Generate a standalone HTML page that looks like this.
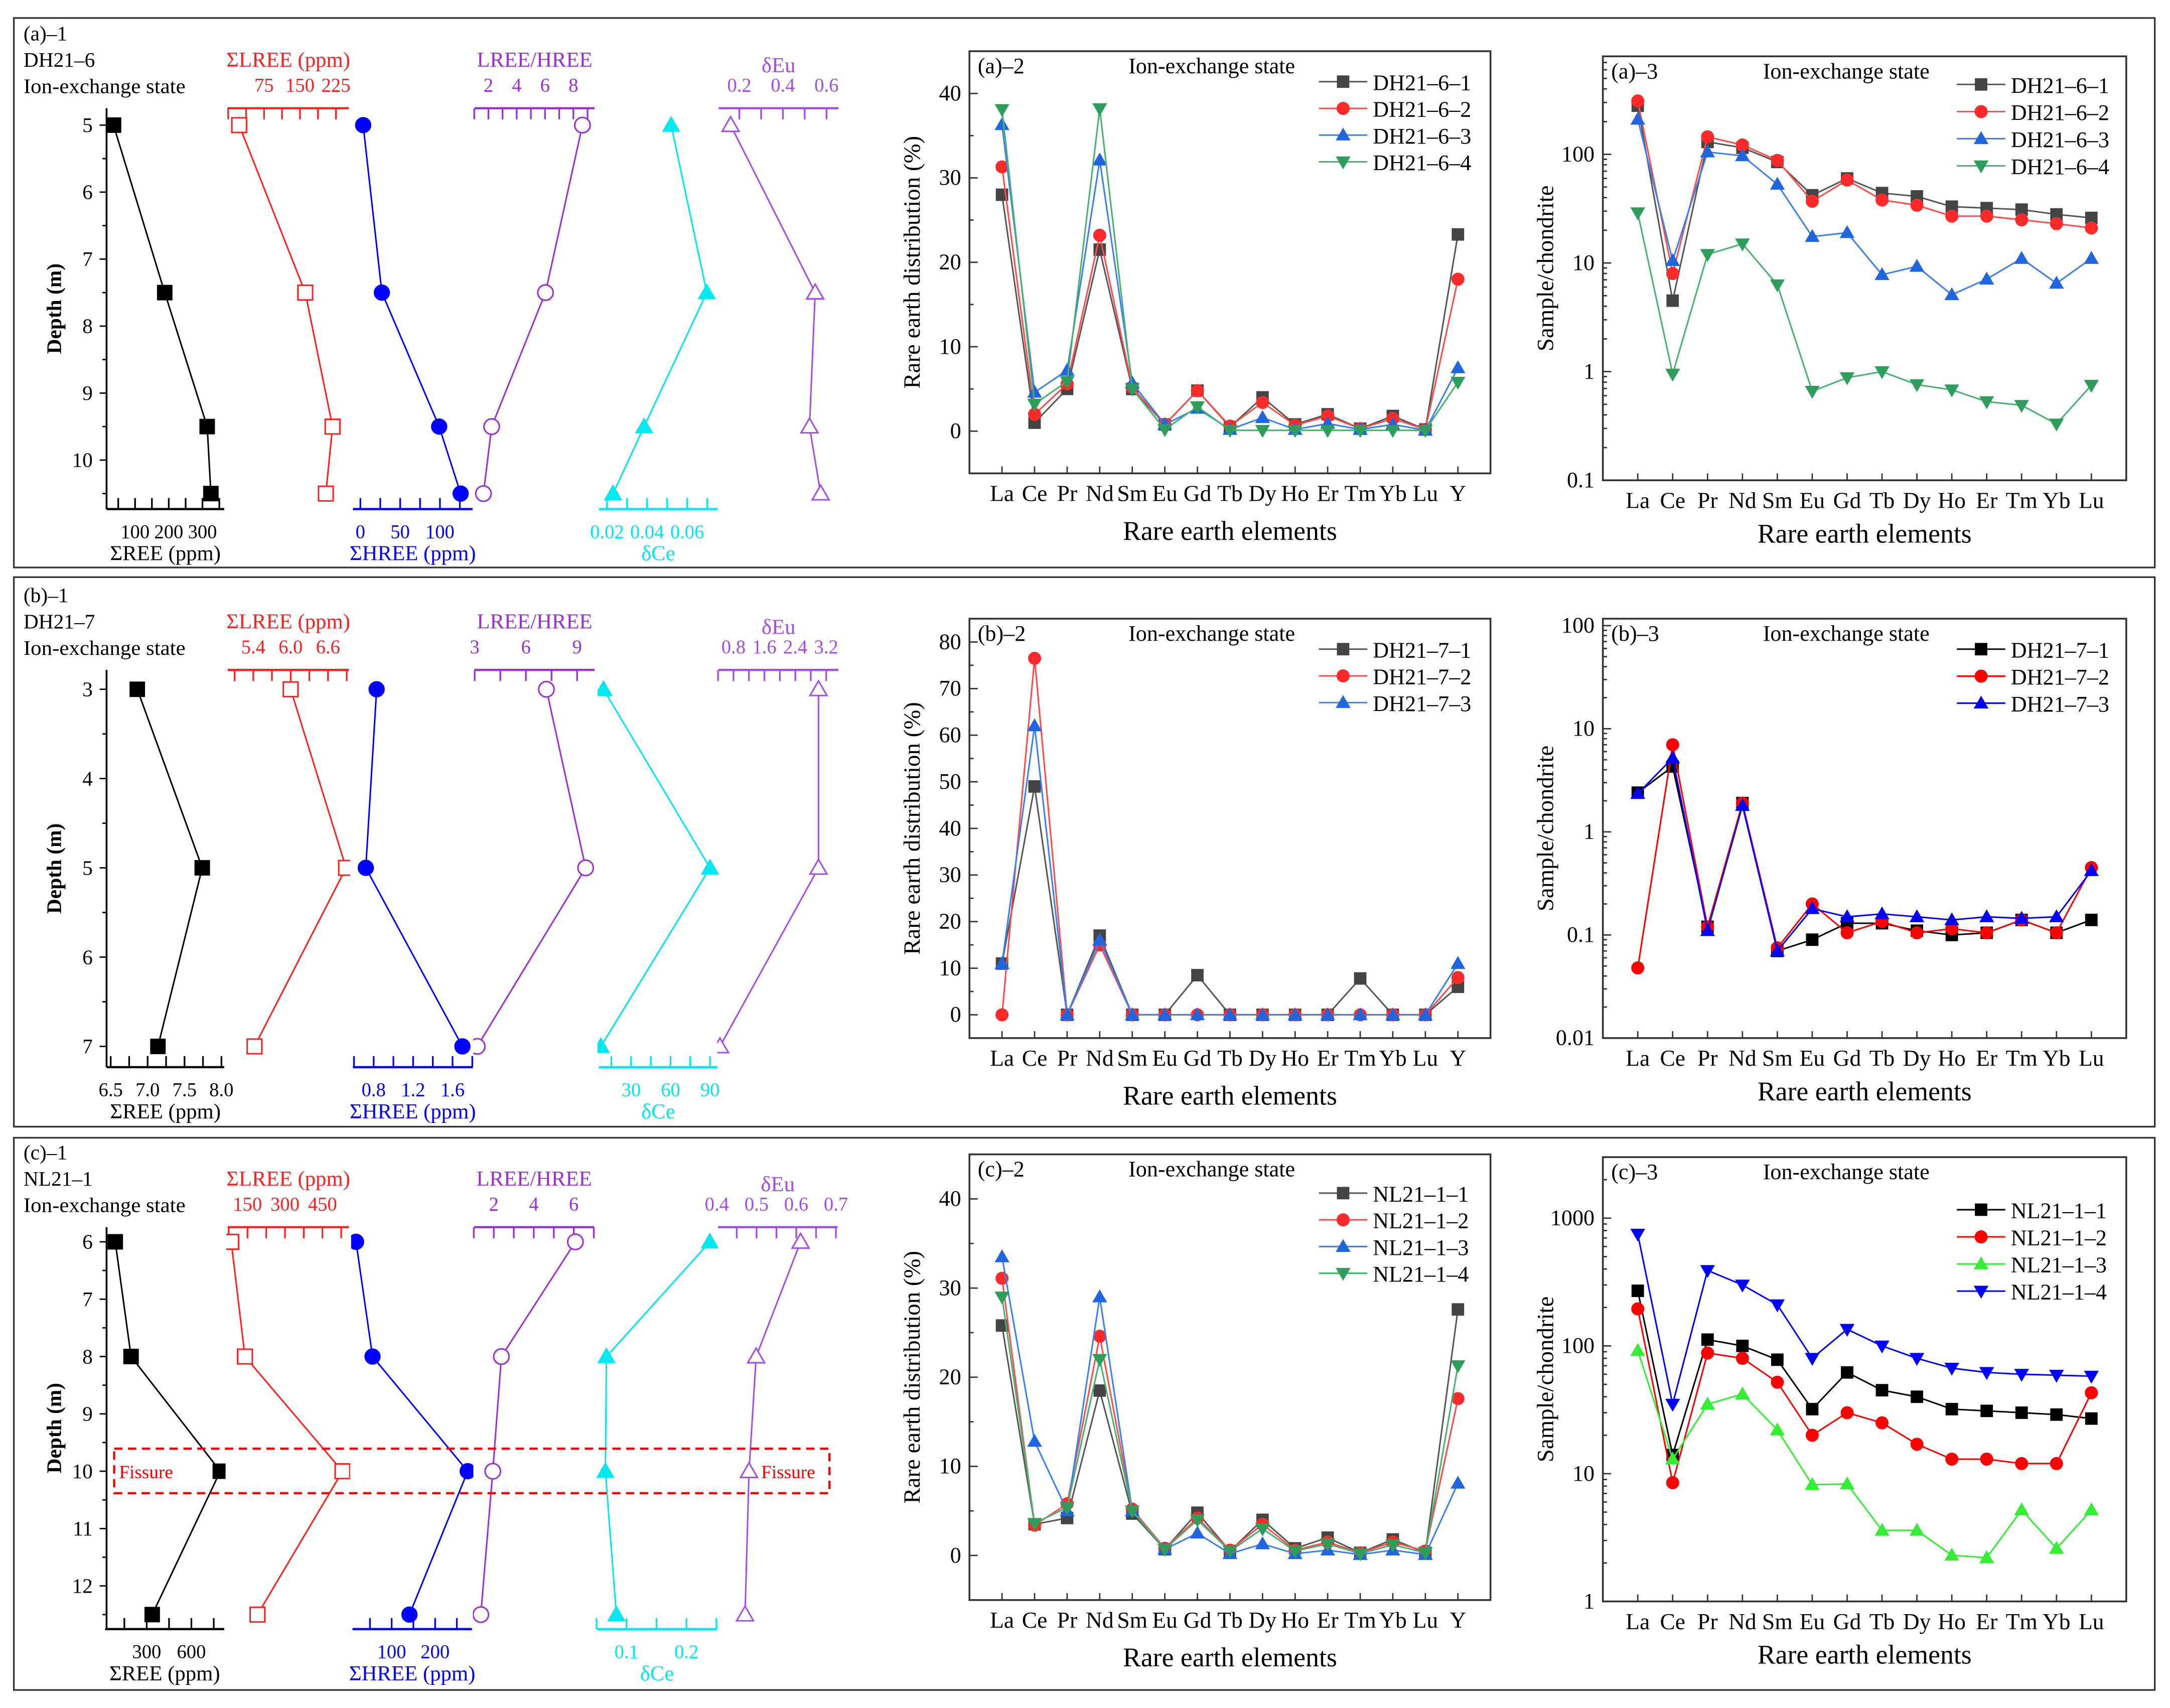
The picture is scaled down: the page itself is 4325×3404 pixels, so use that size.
<!DOCTYPE html>
<html><head><meta charset="utf-8"><title>REE profiles</title>
<style>
html,body{margin:0;padding:0;background:#fff;}
svg{display:block;}
svg text{font-family:"Liberation Serif","Times New Roman",serif;}
</style></head>
<body>
<svg id="chart" xmlns="http://www.w3.org/2000/svg" width="4325" height="3404" viewBox="0 0 1568 1234" preserveAspectRatio="none" font-family="Liberation Serif, serif">
<rect x="0" y="0" width="1568" height="1234" fill="#fff"/>
</svg>
<script>
// ---------- DATA: depth profiles ----------
const depthsA = [5, 7.5, 9.5, 10.5];
const sumREE_A = [36, 188, 314, 325];
const sumLREE_A = [23, 161, 218, 204];
const sumHREE_A = [3.5, 27, 99, 126];
const ratio_A = [8.64, 6.03, 2.23, 1.65];
const dCe_A = [0.052, 0.0698, 0.0385, 0.023];
const dEu_A = [0.16, 0.548, 0.522, 0.573];

const depthsB = [3, 5, 7];
const sumREE_B = [6.86, 7.74, 7.14];
const sumLREE_B = [6.0, 6.89, 5.42];
const sumHREE_B = [0.83, 0.72, 1.70];
const ratio_B = [7.2, 9.5, 3.15];
const dCe_B = [9, 90, 7];
const dEu_B = [3.0, 3.0, 0.45];

const depthsC = [6, 8, 10, 12.5];
const sumREE_C = [89, 195, 794, 337];
const sumLREE_C = [85, 140, 530, 190];
const sumHREE_C = [18, 56, 275, 141];
const ratio_C = [6.08, 2.38, 1.95, 1.35];
const dCe_C = [0.239, 0.0665, 0.0647, 0.083];
const dEu_C = [0.611, 0.499, 0.481, 0.471];

// ---------- DATA: distribution charts ----------
const ree15 = ['La','Ce','Pr','Nd','Sm','Eu','Gd','Tb','Dy','Ho','Er','Tm','Yb','Lu','Y'];
const ree14 = ['La','Ce','Pr','Nd','Sm','Eu','Gd','Tb','Dy','Ho','Er','Tm','Yb','Lu'];
const dist_DH21_6_1 = [28,1,5,21.5,5,0.8,4.8,0.5,4,0.8,2,0.3,1.8,0.2,23.3];
const dist_DH21_6_2 = [31.3,2,5.6,23.2,5.2,0.8,4.8,0.6,3.4,0.7,1.8,0.3,1.5,0.2,18];
const dist_DH21_6_3 = [36.3,4.6,7.2,32.1,5.7,0.8,2.7,0.2,1.6,0.2,0.9,0.2,0.8,0.1,7.5];
const dist_DH21_6_4 = [38.1,3.2,5.9,38.2,5,0.2,2.9,0.1,0.1,0.1,0.1,0.1,0.1,0.1,5.8];

const dist_DH21_7_1 = [11,49,0,17,0,0,8.5,0,0,0,0,7.8,0,0,6];
const dist_DH21_7_2 = [0,76.5,0,15,0,0,0,0,0,0,0,0,0,0,8];
const dist_DH21_7_3 = [11,62,0,16,0,0,0,0,0,0,0,0,0,0,11];

const dist_NL21_1_1 = [25.8,3.5,4.2,18.5,4.7,0.7,4.8,0.5,4,0.8,2,0.3,1.8,0.3,27.6];
const dist_NL21_1_2 = [31.1,3.4,5.8,24.6,5.2,0.8,4.2,0.6,3.5,0.6,1.5,0.3,1.5,0.5,17.6];
const dist_NL21_1_3 = [33.5,12.8,5,29,5,0.7,2.5,0.2,1.3,0.2,0.6,0.1,0.6,0.1,8.1];
const dist_NL21_1_4 = [29,3.6,5.4,22,5,0.7,4,0.5,3,0.5,1.3,0.2,1.2,0.3,21.3];

// ---------- DATA: chondrite-normalised ----------
const chon_DH21_6_1 = [280,4.5,130,115,85,42,60,44,41,33,32,31,28,26];
const chon_DH21_6_2 = [310,8,145,122,88,37,58,38,34,27,27,25,23,21];
const chon_DH21_6_3 = [210,10.5,105,97,53,17.5,19,7.8,9.3,5.1,7.1,11,6.5,11];
const chon_DH21_6_4 = [29,0.95,12,15,6.3,0.66,0.88,1.0,0.76,0.68,0.53,0.49,0.33,0.75];

const chon_DH21_7_1 = [2.4,4.3,0.12,1.9,0.07,0.09,0.13,0.13,0.11,0.1,0.105,0.14,0.105,0.14];
const chon_DH21_7_2 = [0.048,7,0.12,1.9,0.075,0.2,0.105,0.135,0.105,0.115,0.105,0.14,0.105,0.45];
const chon_DH21_7_3 = [2.35,5.2,0.11,1.8,0.07,0.18,0.15,0.16,0.15,0.14,0.15,0.145,0.15,0.42];

const chon_NL21_1_1 = [270,14,112,100,78,32,62,45,40,32,31,30,29,27];
const chon_NL21_1_2 = [195,8.5,88,80,52,20,30,25,17,13,13,12,12,43];
const chon_NL21_1_3 = [92,13,35,42,22,8.2,8.3,3.6,3.6,2.3,2.2,5.2,2.6,5.2];
const chon_NL21_1_4 = [750,35,390,300,210,80,135,100,80,67,62,60,59,58];

// ---------- helpers ----------
const svg = document.getElementById('chart');
const NS = 'http://www.w3.org/2000/svg';
const FONT = '"Liberation Serif", "Times New Roman", serif';
function mk(tag, attrs, parent){
  const e = document.createElementNS(NS, tag);
  for (const k in attrs) e.setAttribute(k, attrs[k]);
  (parent || svg).appendChild(e);
  return e;
}
function txt(s, x, y, size, color, anchor, parent, extra){
  const e = mk('text', Object.assign({x:x, y:y, 'font-size':size, fill:color, 'text-anchor':anchor||'start', 'font-family':FONT}, extra||{}), parent);
  e.textContent = s;
  
  
  return e;
}
function line(x1,y1,x2,y2,color,w,parent,dash){
  const a = {x1:x1,y1:y1,x2:x2,y2:y2,stroke:color,'stroke-width':w||1};
  if (dash) a['stroke-dasharray'] = dash;
  return mk('line', a, parent);
}
function marker(shape, x, y, s, color, hollow, parent){
  const fill = hollow ? '#fff' : color;
  const sw = hollow ? 1.1 : 0.6;
  let e;
  if (shape === 'sq') e = mk('rect', {x:x-s, y:y-s, width:2*s, height:2*s, fill:fill, stroke:color, 'stroke-width':sw}, parent);
  else if (shape === 'ci') e = mk('circle', {cx:x, cy:y, r:s*1.05, fill:fill, stroke:color, 'stroke-width':sw}, parent);
  else if (shape === 'tu') e = mk('polygon', {points:`${x},${y-s*1.15} ${x-s*1.15},${y+s*0.85} ${x+s*1.15},${y+s*0.85}`, fill:fill, stroke:color, 'stroke-width':sw}, parent);
  else e = mk('polygon', {points:`${x},${y+s*1.15} ${x-s*1.15},${y-s*0.85} ${x+s*1.15},${y-s*0.85}`, fill:fill, stroke:color, 'stroke-width':sw}, parent);
  return e;
}
function linScale(v0,p0,v1,p1){ const k=(p1-p0)/(v1-v0); return v => p0 + (v - v0)*k; }

// ---------- panel borders ----------
[[10,13,1547,397,'panel-a-border'],[10,417,1547,397,'panel-b-border'],[10,822,1547,399,'panel-c-border']].forEach(b=>{
  const r = mk('rect', {x:b[0], y:b[1], width:b[2], height:b[3], fill:'none', stroke:'#333', 'stroke-width':1.2});
  
  
});

// ---------- depth profile panels ----------
const RED='#ff2020', BLUE='#0000ff', PURP='#9a2fd6', PURP2='#a24de6', CYAN='#00e8f0';
function drawProfile(p){
  const g = mk('g', {});
  
  
  const yOf = linScale(p.depthCal[0], p.depthCal[1], p.depthCal[2], p.depthCal[3]);
  txt(p.tag, 17, p.yTop - 49, 15, '#000', 'start', g);
  txt(p.sample, 17, p.yTop - 30, 15, '#000', 'start', g);
  txt('Ion-exchange state', 17, p.yTop - 11, 15, '#000', 'start', g, {textLength:117, lengthAdjust:'spacingAndGlyphs'});
  const ax = line(77, p.yTop, 77, p.yBot, '#000', 1.3, g);
  
  
  for (let d = p.dMin; d <= p.dMax + 1e-9; d += 0.5){
    const y = yOf(d);
    if (y < p.yTop - 0.5 || y > p.yBot + 0.5) continue;
    const major = Math.abs(d - Math.round(d)) < 1e-6;
    line(77 - (major?5:3), y, 77, y, '#000', 1, g);
    if (major && d >= p.lblMin && d <= p.lblMax) txt(String(d), 67, y + 5, 15, '#000', 'end', g);
  }
  const dt = txt('Depth (m)', 0, 0, 15, '#000', 'middle', g, {'font-weight':'bold', transform:`translate(44,${(p.yTop+p.yBot)/2}) rotate(-90)`});
  
  p.axes.forEach((a, ai) => {
    const cid = p.id + '-clip' + ai;
    const cp = mk('clipPath', {id:cid});
    mk('rect', {x:a.x1 - 1, y:p.yTop - 20, width:a.x2 - a.x1 + 2, height:p.yBot - p.yTop + 40}, cp);
    const ay = a.pos === 'top' ? p.yTop : p.yBot;
    const dir = a.pos === 'top' ? 1 : -1;
    const xOf = linScale(a.cal[0], a.cal[1], a.cal[2], a.cal[3]);
    const al = line(a.x1, ay, a.x2, ay, a.color, 1.6, g);
    
    
    const step = (a.labels[1] - a.labels[0]) / 2;
    const ticks = [];
    for (let v = a.labels[0]; xOf(v) >= a.x1 - 0.5; v -= step) ticks.push(v);
    for (let v = a.labels[0] + step; xOf(v) <= a.x2 + 0.5; v += step) ticks.push(v);
    ticks.forEach(v => { const x = xOf(v); line(x, ay, x, ay + dir*8, a.color, 1.2, g); });
    a.labels.forEach((v, li) => {
      const s = a.labelText ? a.labelText[li] : String(v);
      const t = txt(s, xOf(v), a.pos === 'top' ? ay - 12 : ay + 21, 14, a.color, 'middle', g);
      
    });
    const tt = txt(a.title, (a.x1 + a.x2)/2 + (a.tdx||0), a.pos === 'top' ? ay - 30 + (a.tdy||0) : ay + 37, 15.5, a.color, 'middle', g);
    
    const sg = mk('g', {'clip-path':`url(#${cid})`}, g);
    
    
    const pts = a.vals.map((v, i) => [xOf(v), yOf(p.depths[i])]);
    const pl = mk('polyline', {points: pts.map(q => q.join(',')).join(' '), fill:'none', stroke:a.color, 'stroke-width':1.1}, sg);
    
    
    pts.forEach(q => {
      const m = marker(a.shape, q[0], q[1], 5.3, a.color, a.hollow, sg);
      
      
    });
  });
  return g;
}

drawProfile({id:'a1', tag:'(a)–1', sample:'DH21–6', yTop:78.2, yBot:367.8, depthCal:[5,90.4,10,332.4], dMin:4.5, dMax:11, lblMin:5, lblMax:10, depths:depthsA,
  axes:[
    {key:'sum-ree', pos:'bottom', x1:77, x2:162, cal:[100,97.6,300,146.3], labels:[100,200,300], color:'#000', title:'ΣREE (ppm)', vals:sumREE_A, shape:'sq', hollow:false},
    {key:'sum-lree', pos:'top', x1:164.5, x2:252, cal:[75,190.8,225,242.7], labels:[75,150,225], color:RED, title:'ΣLREE (ppm)', vals:sumLREE_A, shape:'sq', hollow:true},
    {key:'sum-hree', pos:'bottom', x1:255, x2:341.5, cal:[0,260.4,100,317.9], labels:[0,50,100], color:BLUE, title:'ΣHREE (ppm)', vals:sumHREE_A, shape:'ci', hollow:false},
    {key:'lree-hree', pos:'top', x1:343, x2:429.6, cal:[2,352.9,8,414.3], labels:[2,4,6,8], color:PURP, title:'LREE/HREE', vals:ratio_A, shape:'ci', hollow:true},
    {key:'delta-ce', pos:'bottom', x1:432.7, x2:518.5, cal:[0.02,438.6,0.06,496.5], labels:[0.02,0.04,0.06], color:CYAN, title:'δCe', vals:dCe_A, shape:'tu', hollow:false},
    {key:'delta-eu', pos:'top', x1:519.3, x2:605.8, cal:[0.2,534.2,0.6,597.2], labels:[0.2,0.4,0.6], color:PURP2, title:'δEu', vals:dEu_A, shape:'tu', hollow:true, tdy:4}
  ]});

drawProfile({id:'b1', tag:'(b)–1', sample:'DH21–7', yTop:484, yBot:771, depthCal:[3,498,7,756], dMin:2.5, dMax:7.5, lblMin:3, lblMax:7, depths:depthsB,
  axes:[
    {key:'sum-ree', pos:'bottom', x1:77, x2:162, cal:[6.5,80,8.0,160], labels:[6.5,7.0,7.5,8.0], labelText:['6.5','7.0','7.5','8.0'], color:'#000', title:'ΣREE (ppm)', vals:sumREE_B, shape:'sq', hollow:false},
    {key:'sum-lree', pos:'top', x1:164.5, x2:252, cal:[5.4,183,6.6,237], labels:[5.4,6.0,6.6], labelText:['5.4','6.0','6.6'], color:RED, title:'ΣLREE (ppm)', vals:sumLREE_B, shape:'sq', hollow:true},
    {key:'sum-hree', pos:'bottom', x1:255, x2:341.5, cal:[0.8,270,1.6,327], labels:[0.8,1.2,1.6], color:BLUE, title:'ΣHREE (ppm)', vals:sumHREE_B, shape:'ci', hollow:false},
    {key:'lree-hree', pos:'top', x1:343, x2:429.6, cal:[3,343,9,417], labels:[3,6,9], color:PURP, title:'LREE/HREE', vals:ratio_B, shape:'ci', hollow:true},
    {key:'delta-ce', pos:'bottom', x1:432.7, x2:518.5, cal:[30,456,90,513], labels:[30,60,90], color:CYAN, title:'δCe', vals:dCe_B, shape:'tu', hollow:false},
    {key:'delta-eu', pos:'top', x1:519.3, x2:605.8, cal:[0.8,530,3.2,597], labels:[0.8,1.6,2.4,3.2], color:PURP2, title:'δEu', vals:dEu_B, shape:'tu', hollow:true, tdy:4}
  ]});

drawProfile({id:'c1', tag:'(c)–1', sample:'NL21–1', yTop:886.6, yBot:1177, depthCal:[6,897.2,12,1145.8], dMin:5.5, dMax:13, lblMin:6, lblMax:12, depths:depthsC,
  axes:[
    {key:'sum-ree', pos:'bottom', x1:76, x2:162, cal:[300,106,600,138.3], labels:[300,600], color:'#000', title:'ΣREE (ppm)', vals:sumREE_C, shape:'sq', hollow:false},
    {key:'sum-lree', pos:'top', x1:164.5, x2:252, cal:[150,178.8,450,233], labels:[150,300,450], color:RED, title:'ΣLREE (ppm)', vals:sumLREE_C, shape:'sq', hollow:true},
    {key:'sum-hree', pos:'bottom', x1:254.7, x2:341, cal:[100,283,200,314.4], labels:[100,200], color:BLUE, title:'ΣHREE (ppm)', vals:sumHREE_C, shape:'ci', hollow:false},
    {key:'lree-hree', pos:'top', x1:342.7, x2:429.2, cal:[2,356.8,6,414.6], labels:[2,4,6], color:PURP, title:'LREE/HREE', vals:ratio_C, shape:'ci', hollow:true},
    {key:'delta-ce', pos:'bottom', x1:431.5, x2:518, cal:[0.1,452.7,0.2,496], labels:[0.1,0.2], color:CYAN, title:'δCe', vals:dCe_C, shape:'tu', hollow:false},
    {key:'delta-eu', pos:'top', x1:518.8, x2:605.2, cal:[0.4,518,0.7,604], labels:[0.4,0.5,0.6,0.7], color:PURP2, title:'δEu', vals:dEu_C, shape:'tu', hollow:true, tdy:4}
  ]});

const fis = mk('rect', {x:82.5, y:1046.6, width:516.8, height:32.2, fill:'none', stroke:'#ff0000', 'stroke-width':1.6, 'stroke-dasharray':'6,4'});


txt('Fissure', 86, 1068, 13.5, '#ff0000', 'start');
txt('Fissure', 550, 1068, 13.5, '#ff0000', 'start');

// ---------- line charts ----------
const S_GRAY = {line:'#555', fill:'#454545', shape:'sq'};
const S_RED = {line:'#ff4a4a', fill:'#ff2b2b', shape:'ci'};
const S_BLUE = {line:'#3a7ff0', fill:'#1f66e0', shape:'tu'};
const S_GREEN = {line:'#48b070', fill:'#2f9e5c', shape:'td'};
const S_BLACK = {line:'#000', fill:'#000', shape:'sq'};
const S_PRED = {line:'#ff0000', fill:'#ff0000', shape:'ci'};
const S_PBLUE = {line:'#0000ff', fill:'#0000ff', shape:'tu'};
const S_LIME = {line:'#33ee33', fill:'#33ee33', shape:'tu'};
const S_PBLUE_D = {line:'#0000ff', fill:'#0000ff', shape:'td'};

function drawChart(c){
  const g = mk('g', {});
  
  
  const n = c.cats.length;
  const xOf = i => c.x0 + (i + 1) * (c.x1 - c.x0) / (n + 1);
  let yOf;
  if (c.log) { yOf = v => c.y1 - (Math.log10(v) - c.logMin) * c.dec; }
  else { yOf = linScale(c.yMin, c.y1, c.yMax, c.y0); }
  const fr = mk('rect', {x:c.x0, y:c.y0, width:c.x1 - c.x0, height:c.y1 - c.y0, fill:'none', stroke:'#333', 'stroke-width':1.3}, g);
  
  
  c.cats.forEach((cat, i) => {
    const x = xOf(i);
    line(x, c.y1, x, c.y1 - 5, '#333', 1, g);
    const t = txt(cat, x, c.y1 + 20, 16.5, '#000', 'middle', g);
    
  });
  if (c.log) {
    for (let d = c.logMin; d <= 4; d++) {
      for (let m = 1; m <= 9; m++) {
        const v = m * Math.pow(10, d);
        const y = yOf(v);
        if (y < c.y0 || y > c.y1 + 0.1) continue;
        line(c.x0, y, c.x0 + (m === 1 ? 6 : 3), y, '#333', 1, g);
        if (m === 1) {
          const lab = d < 0 ? v.toFixed(-d) : String(Math.round(v));
          const t = txt(lab, c.x0 - 6, y + 5, 16, '#000', 'end', g);
          
        }
      }
    }
  } else {
    for (let v = c.yMin; v <= c.yMax; v += c.yStep / 2) {
      const y = yOf(v);
      const major = Math.abs(v / c.yStep - Math.round(v / c.yStep)) < 1e-6;
      line(c.x0, y, c.x0 + (major ? 6 : 3), y, '#333', 1, g);
      if (major && v >= 0 && v <= c.yLabMax) {
        const t = txt(String(v), c.x0 - 6, y + 5, 16, '#000', 'end', g);
        
      }
    }
  }
  const xt = txt('Rare earth elements', (c.x0 + c.x1) / 2, c.y1 + (c.log ? 45 : 48), 19.5, '#000', 'middle', g);
  
  const yt = txt(c.yTitle, 0, 0, 17, '#000', 'middle', g, {transform:`translate(${c.x0 - 36},${(c.y0 + c.y1) / 2}) rotate(-90)`});
  
  txt(c.tag, c.x0 + 6, c.y0 + 16, 16, '#000', 'start', g);
  txt('Ion-exchange state', c.x0 + (c.x1 - c.x0) * 0.465, c.y0 + 16, 16, '#000', 'middle', g);
  c.series.forEach((s, si) => {
    const sg = mk('g', {}, g);
    
    
    const pts = s.vals.map((v, i) => [xOf(i), yOf(v)]);
    const pl = mk('polyline', {points: pts.map(q => q.join(',')).join(' '), fill:'none', stroke:s.style.line, 'stroke-width':1.1}, sg);
    
    
    pts.forEach(q => {
      const m = marker(s.style.shape, q[0], q[1], 4.2, s.style.fill, false, sg);
      
      
    });
    const ly = c.legY + si * c.legStep;
    const lg = mk('g', {}, g);
    
    
    line(c.legX, ly, c.legX + 35, ly, s.style.line, 1.1, lg);
    marker(s.style.shape, c.legX + 17.5, ly, 4.2, s.style.fill, false, lg);
    txt(s.name, c.legX + 39, ly + 6, 16, '#000', 'start', lg);
  });
}

drawChart({id:'a2', tag:'(a)–2', x0:700.5, x1:1077, y0:37, y1:342, yMin:-5, yMax:45, yStep:10, yLabMax:40, cats:ree15,
  yTitle:'Rare earth distribution (%)', legX:953, legY:59, legStep:19.3,
  series:[{name:'DH21–6–1', vals:dist_DH21_6_1, style:S_GRAY},{name:'DH21–6–2', vals:dist_DH21_6_2, style:S_RED},
          {name:'DH21–6–3', vals:dist_DH21_6_3, style:S_BLUE},{name:'DH21–6–4', vals:dist_DH21_6_4, style:S_GREEN}]});
drawChart({id:'b2', tag:'(b)–2', x0:700.5, x1:1077, y0:447, y1:750, yMin:-5, yMax:85, yStep:10, yLabMax:80, cats:ree15,
  yTitle:'Rare earth distribution (%)', legX:953, legY:469, legStep:19.3,
  series:[{name:'DH21–7–1', vals:dist_DH21_7_1, style:S_GRAY},{name:'DH21–7–2', vals:dist_DH21_7_2, style:S_RED},
          {name:'DH21–7–3', vals:dist_DH21_7_3, style:S_BLUE}]});
drawChart({id:'c2', tag:'(c)–2', x0:700.5, x1:1077, y0:834, y1:1156, yMin:-5, yMax:45, yStep:10, yLabMax:40, cats:ree15,
  yTitle:'Rare earth distribution (%)', legX:953, legY:862, legStep:19.3,
  series:[{name:'NL21–1–1', vals:dist_NL21_1_1, style:S_GRAY},{name:'NL21–1–2', vals:dist_NL21_1_2, style:S_RED},
          {name:'NL21–1–3', vals:dist_NL21_1_3, style:S_BLUE},{name:'NL21–1–4', vals:dist_NL21_1_4, style:S_GREEN}]});

drawChart({id:'a3', tag:'(a)–3', log:true, logMin:-1, dec:78.5, x0:1158.2, x1:1536.4, y0:40.7, y1:347, cats:ree14,
  yTitle:'Sample/chondrite', legX:1414, legY:61, legStep:19.6,
  series:[{name:'DH21–6–1', vals:chon_DH21_6_1, style:S_GRAY},{name:'DH21–6–2', vals:chon_DH21_6_2, style:S_RED},
          {name:'DH21–6–3', vals:chon_DH21_6_3, style:S_BLUE},{name:'DH21–6–4', vals:chon_DH21_6_4, style:S_GREEN}]});
drawChart({id:'b3', tag:'(b)–3', log:true, logMin:-2, dec:74.5, x0:1158.2, x1:1536.4, y0:447, y1:750, cats:ree14,
  yTitle:'Sample/chondrite', legX:1414, legY:469, legStep:19.5,
  series:[{name:'DH21–7–1', vals:chon_DH21_7_1, style:S_BLACK},{name:'DH21–7–2', vals:chon_DH21_7_2, style:S_PRED},
          {name:'DH21–7–3', vals:chon_DH21_7_3, style:S_PBLUE}]});
drawChart({id:'c3', tag:'(c)–3', log:true, logMin:0, dec:92.3, x0:1158.2, x1:1536.4, y0:836, y1:1157, cats:ree14,
  yTitle:'Sample/chondrite', legX:1414, legY:874, legStep:19.6,
  series:[{name:'NL21–1–1', vals:chon_NL21_1_1, style:S_BLACK},{name:'NL21–1–2', vals:chon_NL21_1_2, style:S_PRED},
          {name:'NL21–1–3', vals:chon_NL21_1_3, style:S_LIME},{name:'NL21–1–4', vals:chon_NL21_1_4, style:S_PBLUE_D}]});
</script>
</body></html>
